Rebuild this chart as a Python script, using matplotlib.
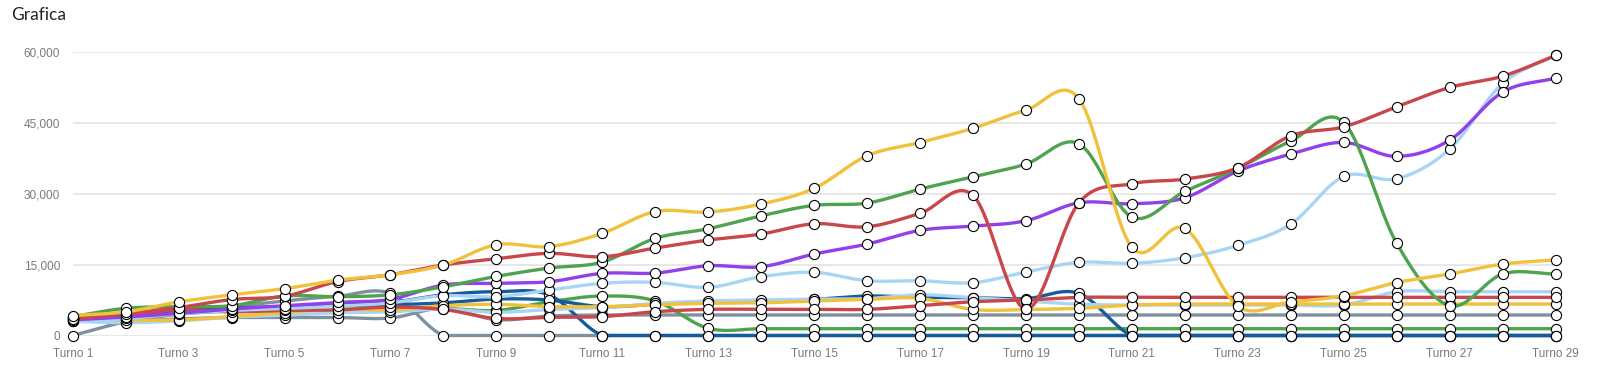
import matplotlib
matplotlib.use('Agg')
import matplotlib.pyplot as plt
import numpy as np

# turnos 1..29
turnos = np.arange(1, 30)
etiquetas = ['Turno %d' % t for t in turnos]

# valores
amarillo1 = [4200, 5000, 7100, 8600, 9900, 11700, 12850, 14900, 19200, 18800,
             21600, 26200, 26100, 27800, 31100, 38000, 40800, 43800, 47650, 50040,
             18640, 22650, 6200, 7100, 8400, 11200, 13000, 15100, 16000]
rojo1 = [3500, 4600, 5900, 7600, 8300, 11400, 12850, 14900, 16230, 17370,
         16650, 18490, 20180, 21450, 23620, 22990, 25820, 29620, 5600, 28060,
         32080, 33070, 35460, 42220, 44120, 48350, 52440, 54830, 59200]
verde1 = [4000, 5750, 6100, 6300, 8350, 8200, 8600, 10300, 12500, 14260,
          15530, 20540, 22570, 25310, 27510, 28000, 30960, 33550, 36240, 40530,
          25040, 30470, 35330, 41100, 45050, 19480, 6300, 13000, 13000]
morado = [3300, 3900, 4700, 5600, 6300, 7000, 7650, 10670, 11030, 11370,
          13140, 13200, 14750, 14540, 17220, 19330, 22230, 23140, 24260, 28060,
          27850, 29120, 34760, 38350, 40820, 37860, 41310, 51450, 54410]
celeste1 = [3000, 3600, 4600, 5300, 5700, 6200, 6900, 8400, 8200, 9610,
            11030, 11240, 10180, 12430, 13350, 11580, 11580, 11160, 13420, 15470,
            15250, 16440, 19060, 23560, 33640, 33130, 39410, 53290, 59200]
azul1 = [3700, 3700, 5400, 5800, 6100, 6600, 7000, 8600, 9250, 8560,
         0, 0, 0, 0, 0, 0, 0, 0, 0, 0,
         0, 0, 0, 0, 0, 0, 0, 0, 0]
azul2 = [3500, 3400, 5600, 5900, 5900, 6300, 6500, 6900, 7710, 7500,
         6100, 6600, 7100, 7300, 7650, 8350, 8070, 7990, 7800, 8900,
         0, 0, 0, 0, 0, 0, 0, 0, 0]
gris1 = [0, 2900, 4500, 6000, 7300, 8300, 8900, 0, 0, 0,
         0, 0, 0, 0, 0, 0, 0, 0, 0, 0,
         0, 0, 0, 0, 0, 0, 0, 0, 0]
gris2 = [3300, 3000, 3500, 3800, 3800, 3800, 3700, 5750, 3350, 4120,
         4330, 4330, 4330, 4330, 4330, 4330, 4330, 4330, 4330, 4330,
         4330, 4330, 4330, 4330, 4330, 4330, 4330, 4330, 4330]
rojo2 = [3500, 4300, 5400, 5000, 5300, 5400, 6000, 5500, 3600, 3850,
         4000, 5030, 5530, 5530, 5530, 5530, 6300, 7140, 7500, 8070,
         8070, 8070, 8070, 8070, 8070, 8070, 8070, 8070, 8070]
amarillo2 = [4000, 3300, 3300, 4000, 4800, 5600, 5400, 6300, 6600, 6100,
             6100, 6500, 6800, 6900, 7290, 7650, 7860, 5500, 5500, 5750,
             6440, 6650, 6650, 6650, 6650, 6650, 6650, 6650, 6650]
celeste2 = [3000, 2700, 3100, 3900, 4300, 4800, 5000, 5600, 4900, 5500,
            5900, 6800, 7300, 7500, 7700, 7800, 8600, 8000, 7300, 6600,
            6440, 6440, 6440, 6440, 6440, 9250, 9250, 9250, 9250]
verde2 = [3800, 4100, 4600, 5200, 5500, 5800, 5750, 5750, 5300, 7140,
          8350, 7300, 1520, 1440, 1440, 1440, 1440, 1440, 1440, 1440,
          1440, 1440, 1440, 1440, 1440, 1440, 1440, 1440, 1440]

series = [
    (gris1, '#7f909f'),
    (gris2, '#7f909f'),
    (verde2, '#4fa34f'),
    (azul1, '#165c9c'),
    (azul2, '#165c9c'),
    (celeste2, '#a9d5f4'),
    (amarillo2, '#f0c13b'),
    (rojo2, '#c9464a'),
    (celeste1, '#a9d5f4'),
    (morado, '#9140ea'),
    (verde1, '#4fa34f'),
    (rojo1, '#c9464a'),
    (amarillo1, '#f0c13b'),
]


def curva(x, y, n=24):
    # curva suave tipo Catmull-Rom entre los puntos
    x = np.asarray(x, float)
    y = np.asarray(y, float)
    m = np.zeros_like(y)
    m[1:-1] = (y[2:] - y[:-2]) / 2.0
    m[0] = y[1] - y[0]
    m[-1] = y[-1] - y[-2]
    xs, ys = [], []
    for i in range(len(x) - 1):
        t = np.linspace(0, 1, n, endpoint=False)
        h00 = 2 * t**3 - 3 * t**2 + 1
        h10 = t**3 - 2 * t**2 + t
        h01 = -2 * t**3 + 3 * t**2
        h11 = t**3 - t**2
        xs.append(x[i] + t * (x[i + 1] - x[i]))
        ys.append(h00 * y[i] + h10 * m[i] + h01 * y[i + 1] + h11 * m[i + 1])
    xs.append([x[-1]])
    ys.append([y[-1]])
    # no bajar de cero
    return np.concatenate(xs), np.maximum(np.concatenate(ys), 0)


W, H = 1597, 368
fig = plt.figure(figsize=(W / 100, H / 100), dpi=100)
x0, x1 = 72.7, 1555.6
y0, y1 = 335.5, 51.7
ax = fig.add_axes([x0 / W, 1 - y0 / H, (x1 - x0) / W, (y0 - y1) / H])

for vals, col in series:
    xs, ys = curva(turnos, vals)
    ax.plot(xs, ys, color=col, lw=2.4, zorder=2, clip_on=False, solid_capstyle='round')
for vals, col in series:
    ax.plot(turnos, vals, 'o', ms=7.3, mfc='white', mec='black', mew=0.8,
            zorder=3, clip_on=False)

ax.set_xlim(1, 29)
ax.set_ylim(0, 60000)
ax.set_yticks([0, 15000, 30000, 45000, 60000])
ax.set_yticklabels(['0', '15,000', '30,000', '45,000', '60,000'])
ax.set_xticks(turnos[::2])
ax.set_xticklabels(etiquetas[::2])
for s in ax.spines.values():
    s.set_visible(False)
ax.tick_params(length=0, labelsize=8.5, labelcolor='#7a7a7a')
ax.tick_params(axis='y', pad=9)
ax.tick_params(axis='x', pad=9)
for lab in ax.get_xticklabels() + ax.get_yticklabels():
    lab.set_family(['Liberation Sans', 'DejaVu Sans'])
ax.grid(axis='y', color='#e3e3e3', lw=1.2)
ax.set_axisbelow(True)

fig.text(11 / W, 1 - 15 / H, 'Grafica', fontsize=12.5, color='#222222',
         va='center', ha='left', family=['Lato', 'DejaVu Sans'])

fig.savefig('out.png', dpi=100)
